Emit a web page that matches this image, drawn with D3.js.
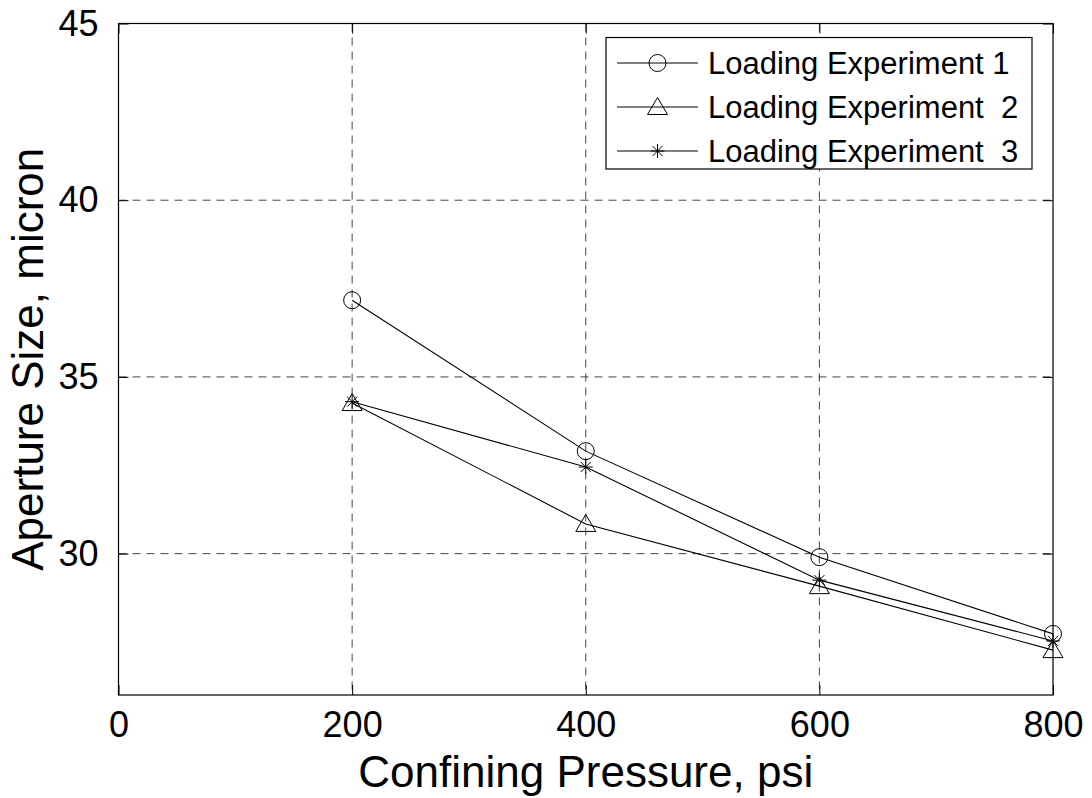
<!DOCTYPE html>
<html><head><meta charset="utf-8">
<script src="https://cdn.jsdelivr.net/npm/d3@7"></script>
<style>body{margin:0;background:#fff}svg{display:block}text{font-family:"Liberation Sans",Arial,sans-serif;fill:#000}</style>
</head><body><svg id="c" width="1092" height="798"></svg>
<script>
const pressure = [200, 400, 600, 800];
const exp1 = [37.17, 32.90, 29.90, 27.73];
const exp2 = [34.26, 30.84, 29.08, 27.27];
const exp3 = [34.30, 32.45, 29.25, 27.53];
const seriesNames = ["Loading Experiment 1", "Loading Experiment  2", "Loading Experiment  3"];
const xTicks = [0, 200, 400, 600, 800];
const yTicks = [30, 35, 40, 45];

const svg = d3.select("#c");
const L = 118.5, R = 1053, T = 23.5, B = 695;
const x = d3.scaleLinear().domain([0, 800]).range([L, R]);
const y = d3.scaleLinear().domain([26, 45]).range([B, T]);

// grid
const g = svg.append("g");
g.selectAll(".vg").data(xTicks.filter(d => d > 0 && d < 800)).join("line")
  .attr("x1", d => x(d)).attr("x2", d => x(d)).attr("y1", T).attr("y2", B)
  .attr("stroke", "#444").attr("stroke-dasharray", "8,6");
g.selectAll(".hg").data(yTicks.filter(d => d < 45)).join("line")
  .attr("x1", L).attr("x2", R).attr("y1", d => y(d)).attr("y2", d => y(d))
  .attr("stroke", "#444").attr("stroke-dasharray", "8,6");

// axes (ticks inward)
const tk = 10;
const xb = svg.append("g").attr("transform", `translate(0,${B})`)
  .call(d3.axisBottom(x).tickValues(xTicks).tickSize(-tk).tickPadding(16).tickFormat(d3.format("d")));
const xt = svg.append("g").attr("transform", `translate(0,${T})`)
  .call(d3.axisTop(x).tickValues(xTicks).tickSize(-tk).tickFormat(""));
const yl = svg.append("g").attr("transform", `translate(${L},0)`)
  .call(d3.axisLeft(y).tickValues(yTicks).tickSize(-tk).tickPadding(20).tickFormat(d3.format("d")));
const yr = svg.append("g").attr("transform", `translate(${R},0)`)
  .call(d3.axisRight(y).tickValues(yTicks).tickSize(-tk).tickFormat(""));
[xb, xt, yl, yr].forEach(a => {
  a.select(".domain").remove();
  a.selectAll(".tick line").attr("stroke", "#000");
  a.selectAll("text").attr("font-size", 36).style("font-family", '"Liberation Sans",Arial,sans-serif').attr("fill", "#000");
});
xb.selectAll("text").attr("dy", "0.71em");
svg.append("rect").attr("x", L).attr("y", T).attr("width", R - L).attr("height", B - T)
  .attr("fill", "none").attr("stroke", "#000").attr("stroke-width", 1.2);

// markers
function marker(sel, type) {
  if (type === 0) {
    sel.append("circle").attr("r", 8.5).attr("fill", "none").attr("stroke", "#000");
  } else if (type === 1) {
    sel.append("path").attr("d", "M0,-9.5L10,7.5L-10,7.5Z").attr("fill", "none").attr("stroke", "#000");
  } else {
    sel.append("path").attr("d", "M-7,0H7M0,-7V7M-5,-5L5,5M-5,5L5,-5").attr("fill", "none").attr("stroke", "#000");
  }
}

const series = [exp1, exp2, exp3];
const line = d3.line().x((d, i) => x(pressure[i])).y(d => y(d));
series.forEach((s, k) => {
  svg.append("path").datum(s).attr("d", line).attr("fill", "none").attr("stroke", "#000").attr("stroke-width", 1.1);
  s.forEach((v, i) => {
    const m = svg.append("g").attr("transform", `translate(${x(pressure[i])},${y(v)})`);
    marker(m, k);
  });
});

// legend
const lx = 606, ly = 37.5, lw = 1032 - 606, lh = 131.5;
svg.append("rect").attr("x", lx).attr("y", ly).attr("width", lw).attr("height", lh)
  .attr("fill", "#fff").attr("stroke", "#000").attr("stroke-width", 1.2);
seriesNames.forEach((n, k) => {
  const cy = 63 + k * 44;
  svg.append("line").attr("x1", 617).attr("x2", 698).attr("y1", cy).attr("y2", cy).attr("stroke", "#000");
  const m = svg.append("g").attr("transform", `translate(657.5,${cy})`);
  marker(m, k);
  svg.append("text").attr("x", 708).attr("y", cy).attr("dy", "0.36em").attr("font-size", 31)
    .style("white-space", "pre").attr("xml:space", "preserve").text(n);
});

// axis labels
svg.append("text").attr("x", (L + R) / 2).attr("y", 787).attr("text-anchor", "middle").attr("font-size", 44)
  .text("Confining Pressure, psi");
svg.append("text").attr("transform", `translate(43,${(T + B) / 2}) rotate(-90)`).attr("text-anchor", "middle")
  .attr("font-size", 44).text("Aperture Size, micron");
</script></body></html>
